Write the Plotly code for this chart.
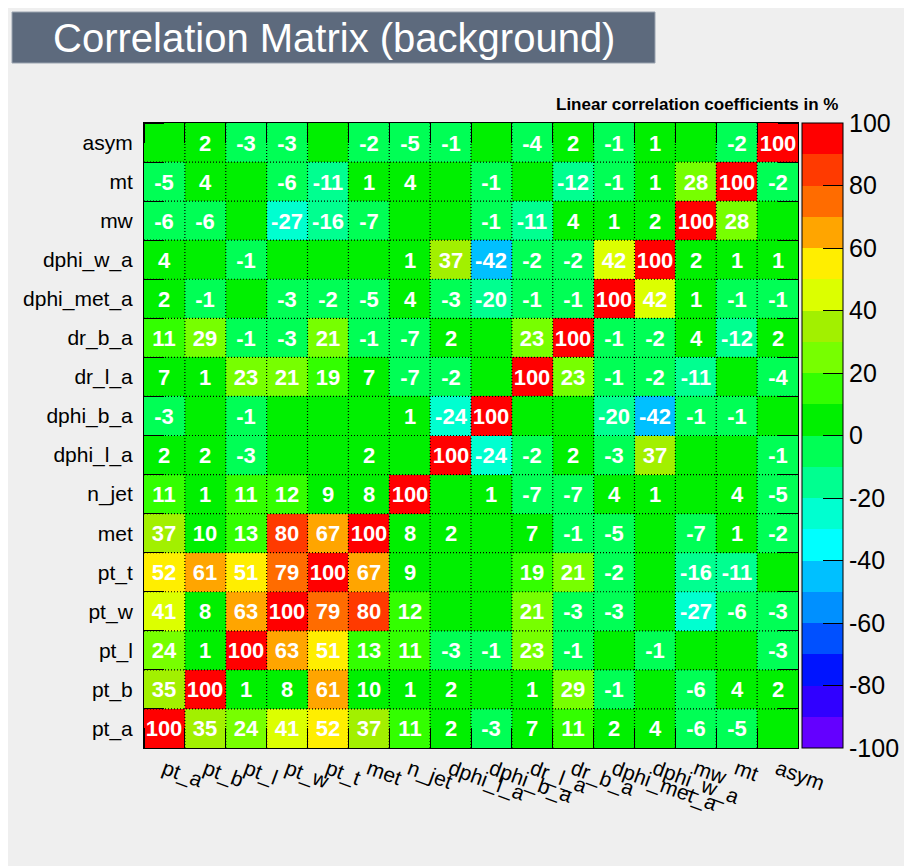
import plotly.graph_objects as go

labels = ["pt_a", "pt_b", "pt_l", "pt_w", "pt_t", "met", "n_jet", "dphi_l_a", "dphi_b_a",
          "dr_l_a", "dr_b_a", "dphi_met_a", "dphi_w_a", "mw", "mt", "asym"]

# rows from bottom (pt_a) to top (asym); columns pt_a ... asym, in %
row_pt_a = [100, 35, 24, 41, 52, 37, 11, 2, -3, 7, 11, 2, 4, -6, -5, 0]
row_pt_b = [35, 100, 1, 8, 61, 10, 1, 2, 0, 1, 29, -1, 0, -6, 4, 2]
row_pt_l = [24, 1, 100, 63, 51, 13, 11, -3, -1, 23, -1, 0, -1, 0, 0, -3]
row_pt_w = [41, 8, 63, 100, 79, 80, 12, 0, 0, 21, -3, -3, 0, -27, -6, -3]
row_pt_t = [52, 61, 51, 79, 100, 67, 9, 0, 0, 19, 21, -2, 0, -16, -11, 0]
row_met = [37, 10, 13, 80, 67, 100, 8, 2, 0, 7, -1, -5, 0, -7, 1, -2]
row_n_jet = [11, 1, 11, 12, 9, 8, 100, 0, 1, -7, -7, 4, 1, 0, 4, -5]
row_dphi_l_a = [2, 2, -3, 0, 0, 2, 0, 100, -24, -2, 2, -3, 37, 0, 0, -1]
row_dphi_b_a = [-3, 0, -1, 0, 0, 0, 1, -24, 100, 0, 0, -20, -42, -1, -1, 0]
row_dr_l_a = [7, 1, 23, 21, 19, 7, -7, -2, 0, 100, 23, -1, -2, -11, 0, -4]
row_dr_b_a = [11, 29, -1, -3, 21, -1, -7, 2, 0, 23, 100, -1, -2, 4, -12, 2]
row_dphi_met_a = [2, -1, 0, -3, -2, -5, 4, -3, -20, -1, -1, 100, 42, 1, -1, -1]
row_dphi_w_a = [4, 0, -1, 0, 0, 0, 1, 37, -42, -2, -2, 42, 100, 2, 1, 1]
row_mw = [-6, -6, 0, -27, -16, -7, 0, 0, -1, -11, 4, 1, 2, 100, 28, 0]
row_mt = [-5, 4, 0, -6, -11, 1, 4, 0, -1, 0, -12, -1, 1, 28, 100, -2]
row_asym = [0, 2, -3, -3, 0, -2, -5, -1, 0, -4, 2, -1, 1, 0, -2, 100]

corr = [row_pt_a, row_pt_b, row_pt_l, row_pt_w, row_pt_t, row_met, row_n_jet, row_dphi_l_a,
        row_dphi_b_a, row_dr_l_a, row_dr_b_a, row_dphi_met_a, row_dphi_w_a, row_mw, row_mt, row_asym]

cbar_ticks = [-100, -80, -60, -40, -20, 0, 20, 40, 60, 80, 100]

# 20 palette bins, -100 .. 100
bin_colors = ["#6400ff", "#3000ff", "#0014ff", "#0050ff", "#0090ff", "#00c0ff", "#00ffff",
              "#00ffd0", "#00ff90", "#00ff55", "#00f000", "#33ff00", "#77ff00", "#a2f000",
              "#dcff00", "#ffee00", "#ffa500", "#ff6c00", "#ff3a00", "#ff0000"]
cscale = []
nb = len(bin_colors)
for i, c in enumerate(bin_colors):
    cscale += [[i / nb, c], [(i + 1) / nb, c]]

text = [[str(v) if v != 0 else "" for v in row] for row in corr]
n = len(labels)
idx = list(range(n))

W, H = 912, 866
L, R, T, B = 136, 122, 115, 126
PW, PH = W - L - R, H - T - B
def xp(px): return (px - L) / PW
def yp(py): return (H - B - py) / PH

FONT = "Liberation Sans, Arial, Helvetica, sans-serif"

fig = go.Figure(go.Heatmap(
    z=corr, x=idx, y=idx, text=text, texttemplate="<b>%{text}</b>",
    textfont=dict(size=22, color="white", family=FONT),
    colorscale=cscale, zmin=-100, zmax=100, hoverinfo="skip",
    colorbar=dict(thickness=41, thicknessmode="pixels", len=1, lenmode="fraction",
                  x=xp(794), xanchor="left", xpad=0, y=0.5, yanchor="middle", ypad=0,
                  tickmode="array", tickvals=cbar_ticks, ticktext=[str(v) for v in cbar_ticks],
                  ticks="inside", ticklen=20, tickcolor="black", tickwidth=1,
                  outlinewidth=1, outlinecolor="black",
                  tickfont=dict(size=25, color="black", family=FONT))))

shapes = []
for i in range(n - 1):
    shapes.append(dict(type="line", xref="x", yref="y", x0=i + 0.5, x1=i + 0.5, y0=-0.5, y1=n - 0.5,
                       line=dict(color="black", width=1.2, dash="1px,2px"), layer="above"))
    shapes.append(dict(type="line", xref="x", yref="y", y0=i + 0.5, y1=i + 0.5, x0=-0.5, x1=n - 0.5,
                       line=dict(color="black", width=1.2, dash="1px,2px"), layer="above"))
# title box
shapes.append(dict(type="rect", xref="paper", yref="paper", x0=xp(4), x1=xp(647), y0=yp(55), y1=yp(4),
                   fillcolor="#5d6a7d", line=dict(color="#9aa3b0", width=1), layer="below"))

ax = dict(tickmode="array", tickvals=idx, ticktext=labels, range=[-0.5, n - 0.5],
          showline=True, linecolor="black", linewidth=1, mirror="ticks", ticks="",
          showgrid=False, zeroline=False,
          minor=dict(tick0=0.5, dtick=1, ticks="inside", ticklen=20, tickcolor="black", tickwidth=1),
          tickfont=dict(size=21, color="black", family=FONT))

fig.update_layout(
    width=W, height=H, margin=dict(l=L, r=R, t=T, b=B, autoexpand=False),
    paper_bgcolor="#efefef", plot_bgcolor="#efefef",
    xaxis=dict(ax, tickangle=20), yaxis=dict(ax, ticklabelstandoff=6),
    shapes=shapes, showlegend=False,
    annotations=[
        dict(text="Correlation Matrix (background)", xref="paper", yref="paper",
             x=xp(326), y=yp(30), xanchor="center", yanchor="middle", showarrow=False,
             font=dict(size=40, color="white", family=FONT)),
        dict(text="<b>Linear correlation coefficients in %</b>", xref="paper", yref="paper",
             x=xp(832), y=yp(96), xanchor="right", yanchor="middle", showarrow=False,
             font=dict(size=17, color="black", family=FONT)),
    ])

fig.write_html("out.html")
